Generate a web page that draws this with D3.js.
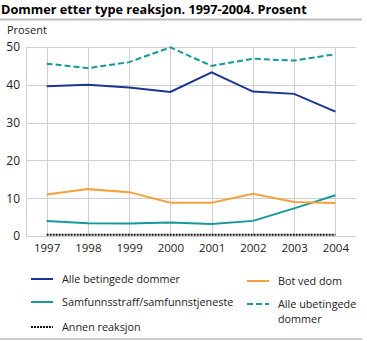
<!DOCTYPE html>
<html>
<head>
<meta charset="utf-8">
<script src="https://cdn.jsdelivr.net/npm/d3@7"></script>
<style>
  body { margin: 0; background: #fff; }
  svg { display: block; font-family: "Open Sans", "DejaVu Sans", sans-serif; }
</style>
</head>
<body>
<svg id="chart" width="367" height="341"></svg>
<script>
// Years on the x axis
const years = ["1997", "1998", "1999", "2000", "2001", "2002", "2003", "2004"];

// Share of sentences by reaction type, percent
const betingede   = [39.6, 40.0, 39.3, 38.1, 43.3, 38.2, 37.6, 32.9];
const ubetingede  = [45.6, 44.4, 46.0, 49.9, 45.0, 46.9, 46.4, 48.1];
const botVedDom   = [11.0, 12.4, 11.6, 8.8, 8.8, 11.2, 9.0, 8.7];
const samfunn     = [4.0, 3.4, 3.3, 3.6, 3.2, 4.0, 7.3, 10.8];
const annen       = [0.3, 0.3, 0.3, 0.3, 0.3, 0.3, 0.3, 0.3];

const yTicks = [0, 10, 20, 30, 40, 50];

const series = [
  { name: "Alle betingede dommer", values: betingede, color: "#1b3593", dash: null, width: 2 },
  { name: "Bot ved dom", values: botVedDom, color: "#f7a03c", dash: null, width: 2 },
  { name: "Samfunnsstraff/samfunnstjeneste", values: samfunn, color: "#16999a", dash: null, width: 2 },
  { name: ["Alle ubetingede", "dommer"], values: ubetingede, color: "#16999a", dash: "6,3", width: 2 },
  { name: "Annen reaksjon", values: annen, color: "#111", dash: "2,1", width: 2 }
];

const svg = d3.select("#chart");
const plotL = 26, plotR = 356, plotT = 47, plotB = 236;

const x = d3.scalePoint().domain(years).range([plotL, plotR]).padding(0.5);
const y = d3.scaleLinear().domain([0, 50]).range([plotB, plotT]);

// Title and rules
svg.append("text").attr("x", 1).attr("y", 13.5)
  .attr("font-size", 12.7).attr("font-weight", "bold").attr("fill", "#000")
  .text("Dommer etter type reaksjon. 1997-2004. Prosent");
svg.append("line").attr("x1", 0).attr("x2", 362).attr("y1", 19.5).attr("y2", 19.5)
  .attr("stroke", "#bdbdbd").attr("stroke-width", 2);
svg.append("line").attr("x1", 0).attr("x2", 362).attr("y1", 339).attr("y2", 339)
  .attr("stroke", "#9e9e9e").attr("stroke-width", 1);

svg.append("text").attr("x", 7).attr("y", 33.5)
  .attr("font-size", 11).attr("fill", "#222").text("Prosent");

// Grid
const grid = svg.append("g").attr("stroke", "#d0d0d0").attr("stroke-width", 1);
yTicks.forEach(t => {
  grid.append("line").attr("x1", plotL).attr("x2", plotR)
    .attr("y1", Math.round(y(t)) + 0.5).attr("y2", Math.round(y(t)) + 0.5);
});
years.forEach(yr => {
  grid.append("line").attr("x1", Math.round(x(yr)) + 0.5).attr("x2", Math.round(x(yr)) + 0.5)
    .attr("y1", plotT).attr("y2", plotB);
});
grid.append("line").attr("x1", plotL + 0.5).attr("x2", plotL + 0.5).attr("y1", plotT).attr("y2", plotB);

// Axes (labels only)
const yAxis = svg.append("g").attr("transform", `translate(${plotL},0)`)
  .call(d3.axisLeft(y).tickValues(yTicks).tickSize(0).tickPadding(6));
yAxis.select(".domain").remove();
yAxis.selectAll("text").attr("font-size", 12).attr("fill", "#222")
  .attr("font-family", "'Open Sans', sans-serif");

const xAxis = svg.append("g").attr("transform", `translate(0,${plotB})`)
  .call(d3.axisBottom(x).tickSize(0).tickPadding(8));
xAxis.select(".domain").remove();
xAxis.selectAll("text").attr("font-size", 11.5).attr("fill", "#222")
  .attr("font-family", "'Open Sans', sans-serif");

// Lines
const line = d3.line().x((d, i) => x(years[i])).y(d => y(d));
const drawOrder = [4, 2, 1, 0, 3];
drawOrder.forEach(k => {
  const s = series[k];
  svg.append("path").datum(s.values)
    .attr("fill", "none").attr("stroke", s.color).attr("stroke-width", s.width)
    .attr("stroke-dasharray", s.dash).attr("d", line);
});

// Legend
const legendPos = [
  { x: 31, y: 279 },
  { x: 247, y: 281 },
  { x: 31, y: 302 },
  { x: 247, y: 304 },
  { x: 31, y: 327 }
];
series.forEach((s, i) => {
  const p = legendPos[i];
  const g = svg.append("g").attr("transform", `translate(${p.x},${p.y})`);
  g.append("line").attr("x1", 0).attr("x2", 22).attr("y1", 0).attr("y2", 0)
    .attr("stroke", s.color).attr("stroke-width", 2).attr("stroke-dasharray", s.dash);
  const names = Array.isArray(s.name) ? s.name : [s.name];
  names.forEach((n, j) => {
    g.append("text").attr("x", 31).attr("y", 4 + j * 15)
      .attr("font-size", 10.8).attr("fill", "#222").text(n);
  });
});
</script>
</body>
</html>
